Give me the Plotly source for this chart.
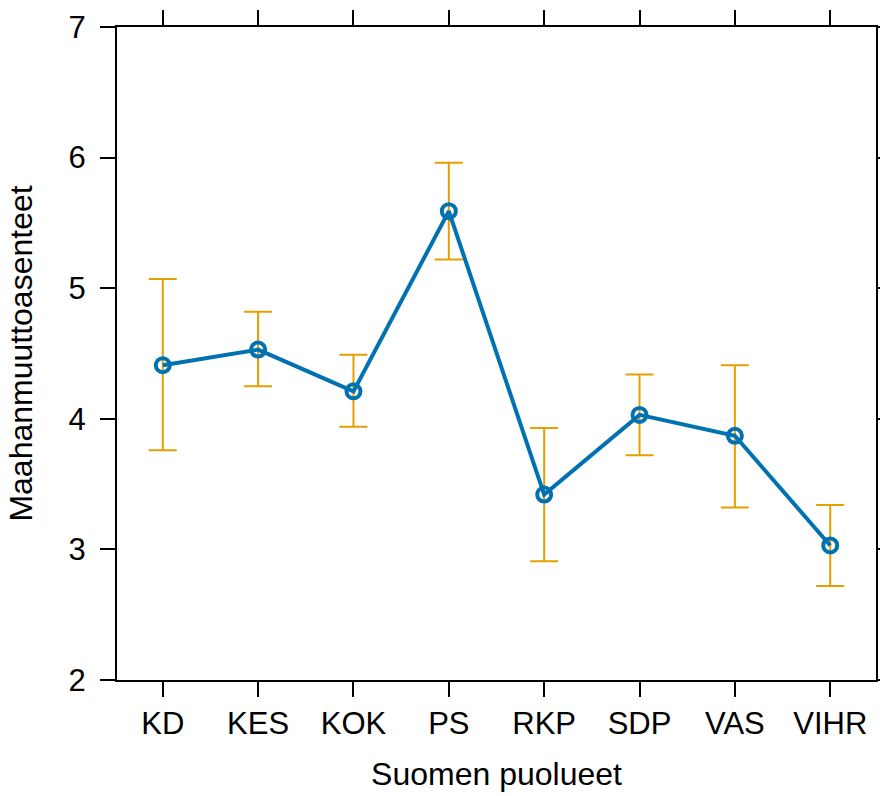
import plotly.graph_objects as go

parties = ["KD", "KES", "KOK", "PS", "RKP", "SDP", "VAS", "VIHR"]
means = [4.41, 4.53, 4.21, 5.59, 3.42, 4.03, 3.87, 3.03]
upper = [5.07, 4.82, 4.49, 5.96, 3.93, 4.34, 4.41, 3.34]
lower = [3.76, 4.25, 3.94, 5.22, 2.91, 3.72, 3.32, 2.72]

err_plus = [u - m for u, m in zip(upper, means)]
err_minus = [m - l for m, l in zip(means, lower)]

FONT = "Liberation Sans, Arial, Helvetica, sans-serif"

fig = go.Figure()
fig.add_trace(go.Scatter(
    x=parties, y=means,
    mode="lines+markers",
    line=dict(color="#0072B2", width=4),
    marker=dict(symbol="circle-open", size=14, color="#0072B2",
                line=dict(width=4, color="#0072B2")),
    error_y=dict(type="data", symmetric=False, array=err_plus,
                 arrayminus=err_minus, color="#E69F00",
                 thickness=2, width=14),
    showlegend=False,
))

axis_common = dict(
    showline=True, linecolor="black", linewidth=2,
    mirror="ticks", ticks="outside", ticklen=15, tickwidth=2,
    tickcolor="black", showgrid=False, zeroline=False, automargin=False,
    tickfont=dict(family=FONT, size=31, color="black"),
)

fig.update_layout(
    width=880, height=796,
    margin=dict(l=117, r=4, t=27, b=116),
    plot_bgcolor="white", paper_bgcolor="white",
    font=dict(family=FONT, color="black"),
    xaxis=dict(**axis_common, type="category", range=[-0.48, 7.48],
               title=dict(text="Suomen puolueet",
                          font=dict(family=FONT, size=32), standoff=22)),
    yaxis=dict(**axis_common, range=[2, 7], dtick=1, tick0=2,
               ticklabelstandoff=8,
               title=dict(text="Maahanmuuttoasenteet",
                          font=dict(family=FONT, size=32), standoff=26)),
)

post = (
    "document.documentElement.style.margin='0';"
    "document.body.style.margin='0';"
    "document.body.style.overflow='hidden';"
    "var gd=document.getElementById('{plot_id}');"
    "Plotly.relayout(gd,{width:880,height:796});"
)

fig.write_html("out.html", post_script=post,
               config={"responsive": False, "displayModeBar": False})
